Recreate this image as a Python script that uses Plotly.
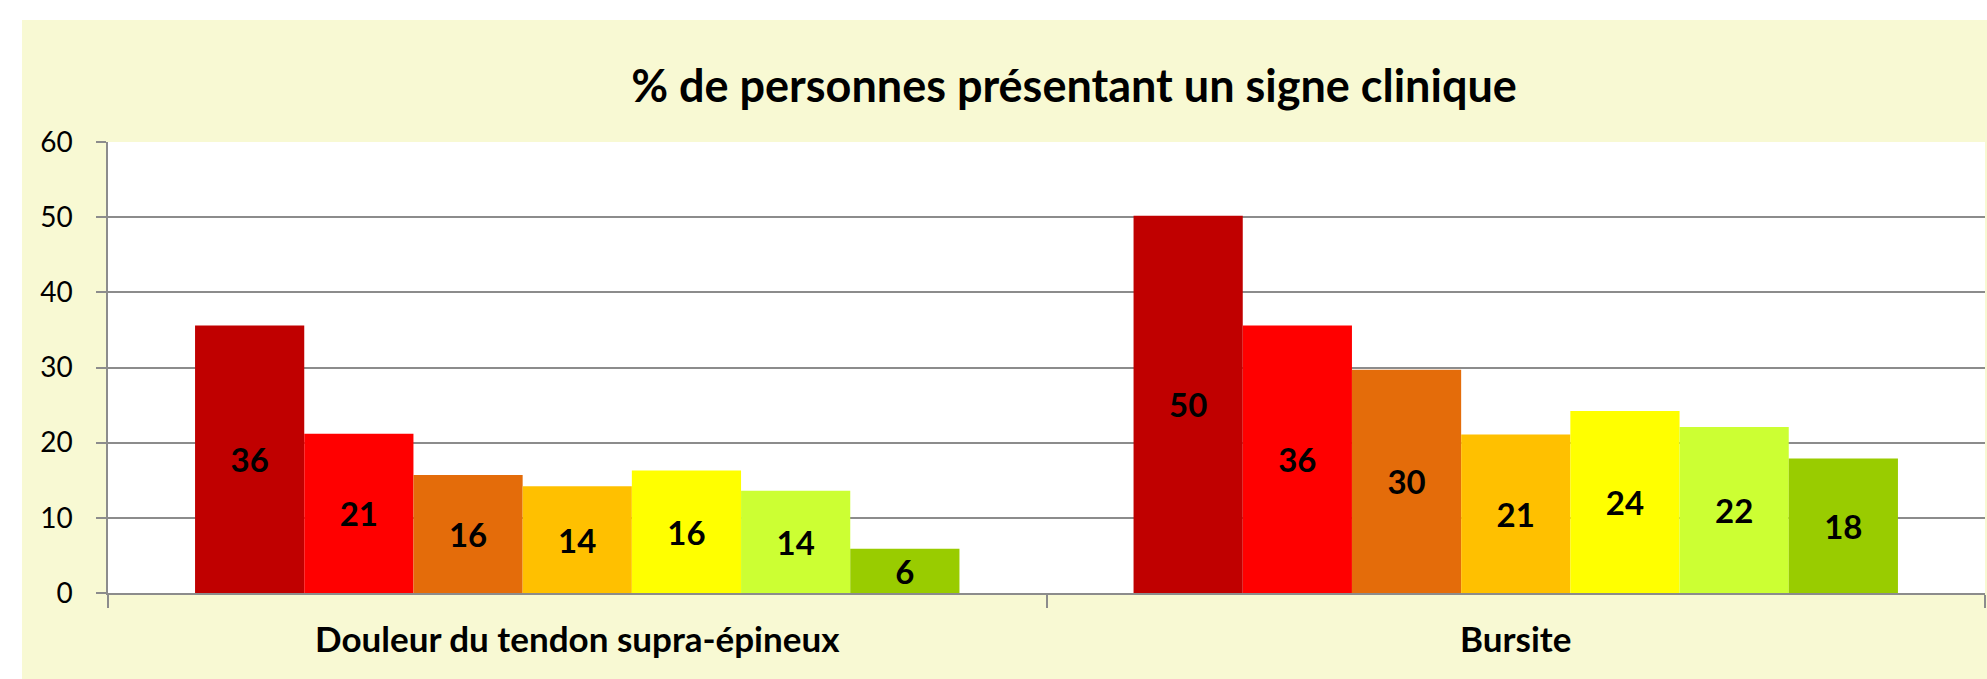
import plotly.graph_objects as go

categories = ["Douleur du tendon supra-épineux", "Bursite"]
series_names = ["Série 1", "Série 2", "Série 3", "Série 4", "Série 5", "Série 6", "Série 7"]
series_values = [
    [35.6, 50.2],
    [21.2, 35.6],
    [15.7, 29.7],
    [14.2, 21.1],
    [16.3, 24.2],
    [13.6, 22.1],
    [5.9, 17.9],
]
series_colors = ["#C00000", "#FF0000", "#E46C0A", "#FFC000", "#FFFF00", "#CCFF33", "#99CC00"]
title_text = "% de personnes présentant un signe clinique"
y_ticks = [0, 10, 20, 30, 40, 50, 60]

W, H = 1987, 679
L, R, T, B = 108, 2, 142, 86
plot_w = W - L - R
plot_h = H - T - B

fig = go.Figure()
for name, vals, col in zip(series_names, series_values, series_colors):
    fig.add_trace(go.Bar(
        x=categories, y=vals, name=name,
        marker=dict(color=col, line=dict(width=0)),
        texttemplate="%{y:.0f}",
        textposition="inside",
        insidetextanchor="middle",
        textangle=0,
        constraintext="none",
        textfont=dict(family="Lato", size=33, color="black", weight="bold"),
    ))

cream = "#F8F9D3"
fig.add_shape(type="rect", xref="paper", yref="paper", layer="below",
              x0=(22 - L) / plot_w, x1=(W + 5 - L) / plot_w,
              y0=-(H + 5 - (H - B)) / plot_h, y1=((H - B) - 20) / plot_h,
              fillcolor=cream, line=dict(width=0))
fig.add_shape(type="rect", xref="paper", yref="paper", layer="below",
              x0=0, x1=1, y0=0, y1=1,
              fillcolor="white", line=dict(width=0))

fig.update_layout(
    width=W, height=H,
    margin=dict(l=L, r=R, t=T, b=B),
    paper_bgcolor="white",
    plot_bgcolor="rgba(0,0,0,0)",
    barmode="group",
    bargap=0.1855,
    bargroupgap=0,
    showlegend=False,
    font=dict(family="Lato", color="black"),
    title=dict(text=title_text, x=1074 / W, xanchor="center", xref="container",
               y=1 - 86 / H, yanchor="middle", yref="container",
               font=dict(family="Lato", size=45, color="black", weight="bold")),
    xaxis=dict(
        showline=True, linecolor="#8C8C8C", linewidth=1.5,
        ticks="outside", tickson="boundaries", ticklen=13, tickcolor="#8C8C8C", tickwidth=1.5,
        tickfont=dict(family="Lato", size=35, color="black", weight="bold"),
        ticklabelstandoff=15,
        showgrid=False,
    ),
    yaxis=dict(
        range=[0, 60], tickvals=y_ticks, showline=True, linecolor="#8C8C8C", linewidth=1.5,
        ticks="outside", ticklen=10, tickcolor="#8C8C8C", tickwidth=1.5,
        showgrid=True, gridcolor="#8C8C8C", gridwidth=1.5,
        tickfont=dict(family="Lato", size=28, color="black"),
        ticklabelstandoff=18,
        zeroline=False,
    ),
)

fig.write_html("out.html", config={"displayModeBar": False},
               post_script="document.body.style.margin='0px';")
